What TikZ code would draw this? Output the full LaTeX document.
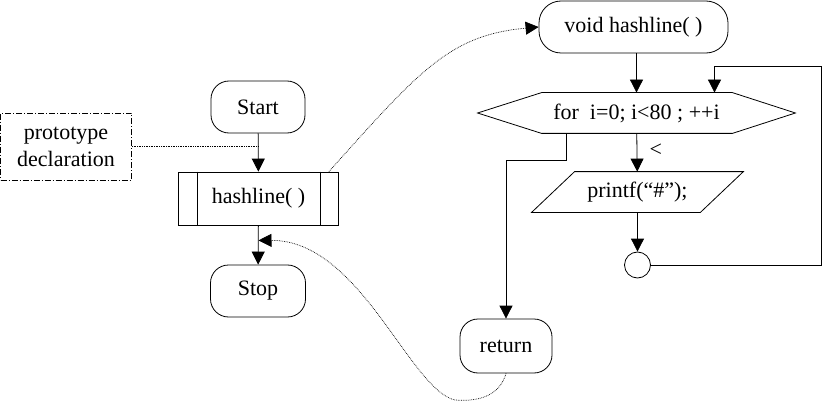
\documentclass[tikz,border=0pt]{standalone}
\usepackage{fontspec}
\setmainfont{Liberation Serif}
\usetikzlibrary{arrows.meta}

\tikzset{
  terminal/.style={draw,rounded corners=18pt,minimum width=94pt,minimum height=52pt,inner sep=0pt},
  subproc/.style={draw,minimum width=160pt,minimum height=53pt,inner sep=0pt},
  shapebox/.style={inner sep=0pt},
  notebox/.style={draw,dash pattern=on 6pt off 2pt on 1pt off 2pt,minimum width=131pt,minimum height=67pt,align=center,inner sep=0pt},
  flow/.style={-{Triangle[length=13pt,width=13pt]}},
  link/.style={densely dotted,line width=0.7pt},
}

\begin{document}
\begin{tikzpicture}[x=1pt,y=-1pt,line width=0.8pt,
    font=\fontsize{22pt}{27pt}\selectfont]
  \useasboundingbox (0,0) rectangle (823,404);

  % main program
  \node[terminal] (start) at (258,107) {Start};
  \node[subproc] (call) at (258.5,198.5) {hashline( )};
  \draw ([xshift=19pt]call.north west) -- ([xshift=19pt]call.south west);
  \draw ([xshift=-19pt]call.north east) -- ([xshift=-19pt]call.south east);
  \node[terminal,minimum width=95pt] (stop) at (258,291) {Stop};
  \node[notebox] (proto) at (66,146.5) {prototype\\declaration};

  \draw[flow] (start) -- (call);
  \draw[flow] (call) -- (stop);
  \draw[link] (proto.east) -- (proto.east -| call.north);

  % function hashline
  \node[terminal,minimum width=189pt,rounded corners=22pt] (func) at (633.5,27) {void hashline( )};
  \node[shapebox,minimum width=317pt,minimum height=40pt] (for) at (636.5,113) {for\ \ i=0; i<80 ; ++i};
  \draw (for.west) -- ([xshift=64pt]for.north west) -- ([xshift=-63pt]for.north east)
    -- (for.east) -- ([xshift=-63pt]for.south east) -- ([xshift=64pt]for.south west) -- cycle;
  \node[shapebox,minimum width=168pt,minimum height=40pt] (print) at (637.5,192) {printf(“\#”);};
  \draw ([xshift=21.5pt]print.north west) -- ([xshift=21.5pt]print.north east)
    -- ([xshift=-21.5pt]print.south east) -- ([xshift=-21.5pt]print.south west) -- cycle;
  \node[draw,circle,minimum size=26pt,inner sep=0pt] (join) at (637.5,265) {};
  \node[terminal,minimum width=92pt,minimum height=54pt] (ret) at (506,346) {return};

  \coordinate (loopR) at (821,66);
  \coordinate (exitbend) at (506,160);
  \coordinate (back) at ([yshift=-15pt]call.south);

  \draw[flow] (func.south -| for.north) -- (for.north);
  \draw[flow] (for) -- node[pos=0.45,right=9pt] {<} (print);
  \draw[flow] (print) -- (join);
  \draw[flow] (join.east) -| (loopR) -| ([xshift=78pt]for.north);
  \draw[flow] ([xshift=-70pt]for.south) |- (exitbend) -- (ret.north);

  % calls and return
  \draw[link,flow] ([xshift=-10pt]call.north east) .. controls (420,70) and (450,35) .. (func.west);
  \draw[link,flow] (ret.south) .. controls (500,395) and (480,402) .. (455,400)
    .. controls (410,390) and (360,240) .. (back);
\end{tikzpicture}
\end{document}
